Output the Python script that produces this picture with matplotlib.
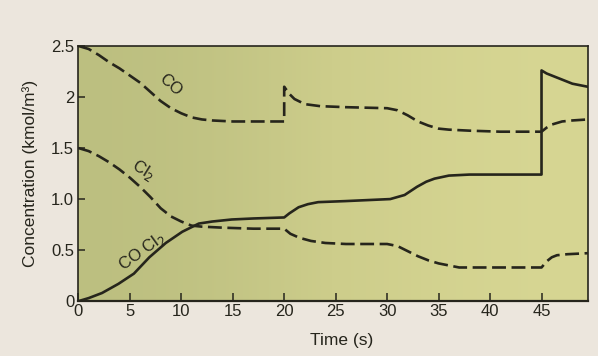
#!/usr/bin/env python3
"""Recreate the CO + Cl2 <-> COCl2 concentration-vs-time textbook figure."""

import matplotlib

matplotlib.use("Agg")
import matplotlib.pyplot as plt
from matplotlib.colors import LinearSegmentedColormap

# values (time in s, concentration in kmol/m^3)
co_t = [0, 1, 2, 3, 4, 5, 6, 7, 8, 9, 10, 11, 12, 13, 15, 18, 20, 20, 20.5, 21, 22,
        23.5, 26, 30, 31, 32, 33, 34, 35, 36, 38, 41, 45, 45.5, 46, 47, 48, 49.5]
co = [2.50, 2.47, 2.41, 2.34, 2.28, 2.21, 2.14, 2.05, 1.96, 1.89, 1.84, 1.80, 1.78, 1.77,
      1.76, 1.76, 1.76, 2.10, 2.03, 1.98, 1.93, 1.91, 1.90, 1.89, 1.87, 1.82, 1.76, 1.72,
      1.69, 1.68, 1.67, 1.66, 1.66, 1.70, 1.73, 1.76, 1.77, 1.78]

cl2_t = [0, 1, 2, 3, 4, 5, 6, 7, 8, 9, 10, 11, 12, 14, 17, 20, 20.6, 21.5, 22.6, 24, 26,
         30, 31, 32, 33, 34, 35, 36, 37, 39, 45, 45.5, 46, 46.5, 47.5, 49.5]
cl2 = [1.50, 1.47, 1.42, 1.36, 1.29, 1.21, 1.12, 1.02, 0.91, 0.83, 0.78, 0.74, 0.73, 0.72,
       0.71, 0.71, 0.66, 0.62, 0.59, 0.57, 0.56, 0.56, 0.54, 0.49, 0.44, 0.40, 0.37, 0.35,
       0.33, 0.33, 0.33, 0.39, 0.43, 0.45, 0.46, 0.47]

cocl2_t = [0, 1, 2.3, 3.9, 5.4, 6.9, 8.5, 10.1, 11.7, 13, 14.9, 17, 20, 20.5, 21.4, 22.3,
           23.3, 25.9, 30.3, 31.7, 32.9, 33.8, 34.6, 36, 38, 45, 45, 45.5, 46, 47, 48, 49.5]
cocl2 = [0, 0.03, 0.08, 0.17, 0.27, 0.43, 0.57, 0.68, 0.76, 0.78, 0.80, 0.81, 0.82, 0.86,
         0.92, 0.95, 0.97, 0.98, 1.00, 1.04, 1.12, 1.17, 1.20, 1.23, 1.24, 1.24, 2.26, 2.23,
         2.21, 2.17, 2.13, 2.10]

x_ticks = [0, 5, 10, 15, 20, 25, 30, 35, 40, 45]
y_ticks = [0, 0.5, 1.0, 1.5, 2.0, 2.5]
y_tick_labels = ["0", "0.5", "1.0", "1.5", "2", "2.5"]

INK = "#26251c"
PAPER = "#ece6dd"
DASH = (10, 4)


def main() -> None:
    plt.rcParams["font.family"] = ["Liberation Sans", "DejaVu Sans"]
    plt.rcParams["lines.scale_dashes"] = False

    fig = plt.figure(figsize=(5.98, 3.56), dpi=100, facecolor=PAPER)
    ax = fig.add_axes([0.131, 0.154, 0.852, 0.717])

    # olive-to-yellow tint of the printed plot area
    tint = LinearSegmentedColormap.from_list("tint", ["#bcbf80", "#cdcd8b", "#d7d693"])
    ax.imshow([[0.0, 0.5, 1.0]], cmap=tint, extent=(0, 1, 0, 1), transform=ax.transAxes,
              aspect="auto", interpolation="bicubic", zorder=0)

    ax.plot(co_t, co, color=INK, lw=1.9, dashes=DASH, zorder=3)
    ax.plot(cl2_t, cl2, color=INK, lw=1.9, dashes=DASH, zorder=3)
    ax.plot(cocl2_t, cocl2, color=INK, lw=1.9, zorder=3)

    ax.text(8.9, 2.12, "CO", rotation=-42, fontsize=12, color=INK, ha="center", va="center")
    ax.text(6.3, 1.28, "Cl$_2$", rotation=-32, fontsize=12, color=INK, ha="center",
            va="center")
    ax.text(6.2, 0.49, "CO Cl$_2$", rotation=36, fontsize=12, color=INK, ha="center",
            va="center")

    ax.set_xlim(0, 49.5)
    ax.set_ylim(0, 2.5)
    ax.set_xticks(x_ticks)
    ax.set_yticks(y_ticks)
    ax.set_yticklabels(y_tick_labels)
    ax.tick_params(direction="in", length=6, width=1.1, colors=INK, labelsize=12, pad=2)
    ax.tick_params(axis="y", length=5, pad=3)
    for spine in ax.spines.values():
        spine.set_color(INK)
        spine.set_linewidth(1.2)
    ax.spines["bottom"].set_linewidth(1.6)

    ax.set_xlabel("Time (s)", fontsize=12.5, color=INK)
    ax.xaxis.set_label_coords(0.517, -0.125)
    ax.set_ylabel("Concentration (kmol/m³)", fontsize=12.5, color=INK)
    ax.yaxis.set_label_coords(-0.08, 0.5)

    fig.savefig("out.png", dpi=100, facecolor=PAPER)
    plt.close(fig)


if __name__ == "__main__":
    main()
